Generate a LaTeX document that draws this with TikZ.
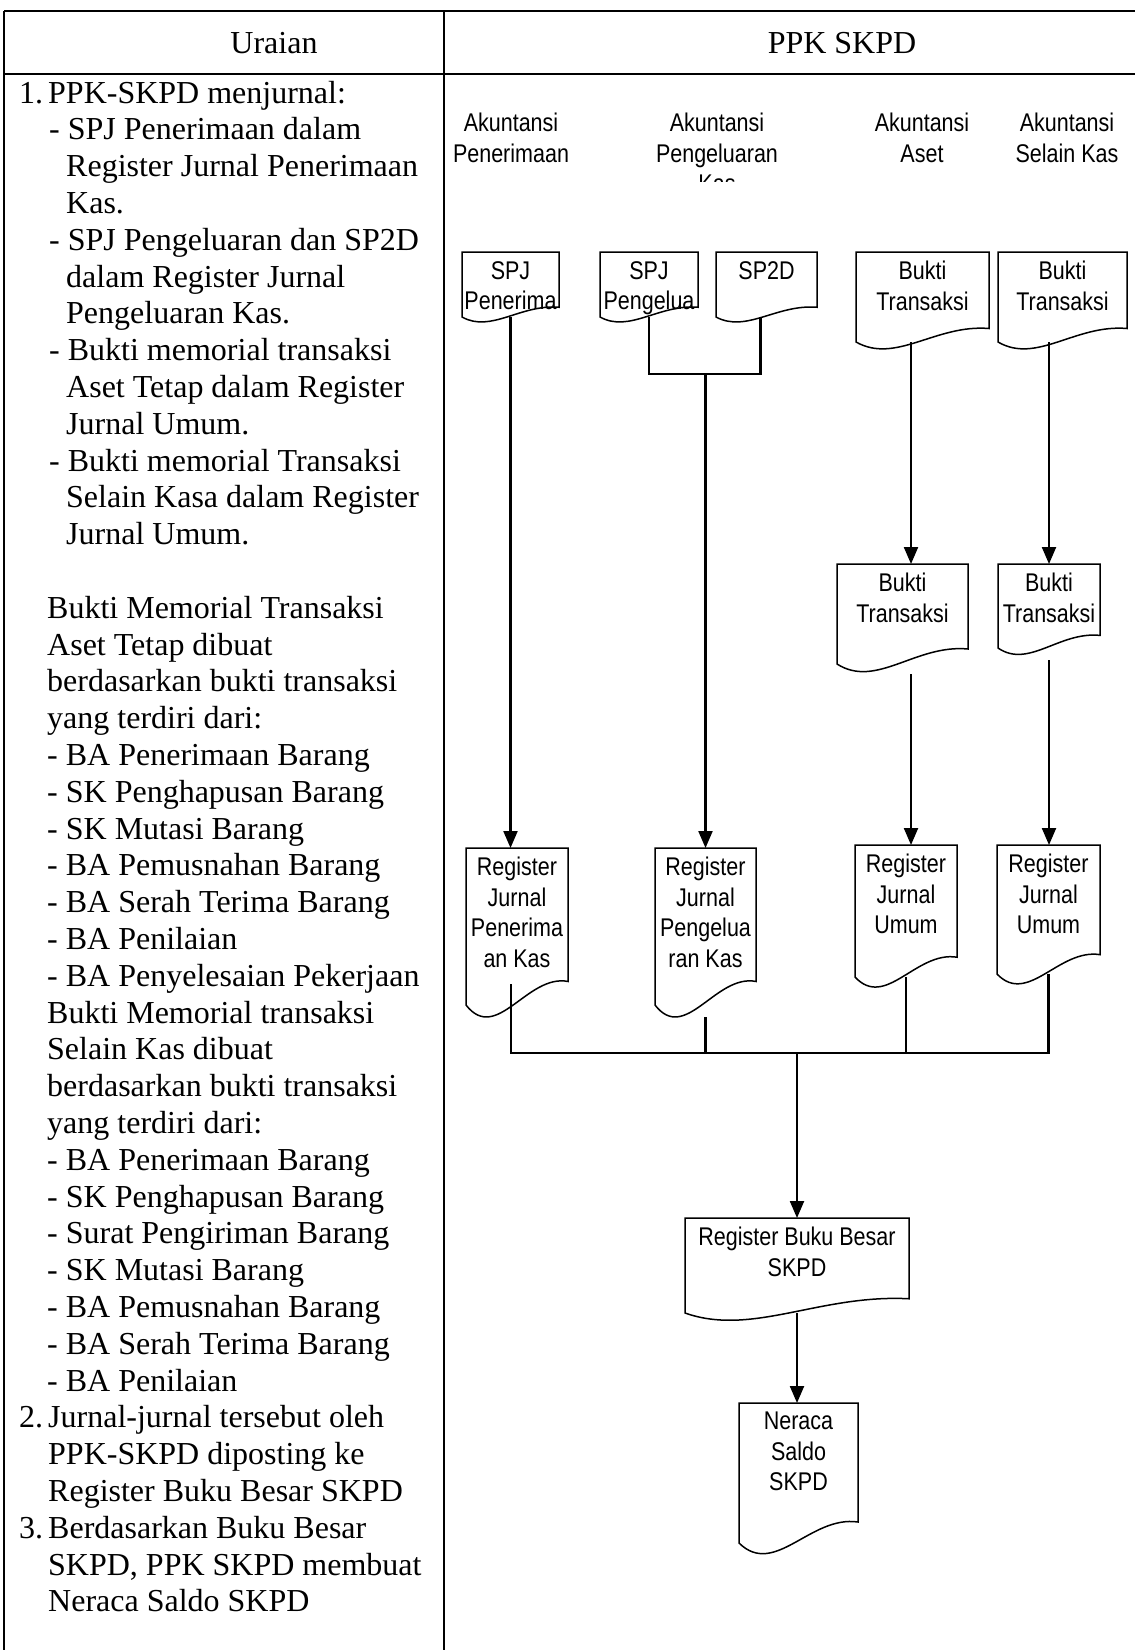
\documentclass[tikz,border=0pt]{standalone}
\usepackage{fontspec}
\setmainfont{Liberation Serif}
\newfontfamily\arialc[FakeStretch=0.84]{Liberation Sans}
\usetikzlibrary{arrows.meta}
\newcommand\docbox[6]{%
  \node[docnode, minimum width=#4pt, minimum height=#5pt, anchor=north west] (#1) at (#2,#3) {};
  \draw[docline] (#2,#3) -- ({#2+#4},#3) -- ({#2+#4},{#3+0.85*#5})
     .. controls ({#2+0.6*#4},{#3+0.8*#5}) and ({#2+0.3*#4},{#3+1.25*#5}) .. (#2,{#3+#5}) -- cycle;
  \node[ak, anchor=north] (#1t) at ([yshift=-9pt]#1.north) {#6};
}
\newcommand\lline[4]{\node[lt] (#1) at (#2,{103+36.8*(#3-1)}) {#4};}
\begin{document}
\begin{tikzpicture}[x=1pt,y=-1pt,
  tbl/.style={line width=2pt},
  lt/.style={font=\fontsize{32}{36.8}\selectfont, inner sep=0pt, anchor=base west},
  hd/.style={font=\fontsize{32}{36.8}\selectfont, inner sep=0pt, anchor=base},
  ak/.style={font=\arialc\fontsize{25.6}{30.5}\selectfont, align=center, inner sep=0pt},
  docnode/.style={inner sep=0pt, outer sep=0pt, draw=none, rectangle},
  docline/.style={line width=1.5pt, line join=miter},
  conn/.style={line width=2.2pt},
  arr/.style={conn, -{Triangle[length=17pt,width=14pt]}},
]
\useasboundingbox[fill=white] (0,0) rectangle (1135,1650);

% table
\draw[tbl] (4,10.5) -- (1135,10.5);
\draw[tbl] (4,74) -- (1135,74);
\draw[tbl] (4,10.5) -- (4,1650);
\draw[tbl] (444,10.5) -- (444,1650);
\node[hd] (h1) at (274,53) {Uraian};
\node[hd] (h2) at (842,53) {PPK SKPD};

% left column text
\lline{n1}{19}{1}{1.}
\lline{l1}{48}{1}{PPK-SKPD menjurnal:}
\lline{l2}{49}{2}{- SPJ Penerimaan dalam}
\lline{l3}{66}{3}{Register Jurnal Penerimaan}
\lline{l4}{66}{4}{Kas.}
\lline{l5}{49}{5}{- SPJ Pengeluaran dan SP2D}
\lline{l6}{66}{6}{dalam Register Jurnal}
\lline{l7}{66}{7}{Pengeluaran Kas.}
\lline{l8}{49}{8}{- Bukti memorial transaksi}
\lline{l9}{66}{9}{Aset Tetap dalam Register}
\lline{l10}{66}{10}{Jurnal Umum.}
\lline{l11}{49}{11}{- Bukti memorial Transaksi}
\lline{l12}{66}{12}{Selain Kasa dalam Register}
\lline{l13}{66}{13}{Jurnal Umum.}
\lline{l15}{47}{15}{Bukti Memorial Transaksi}
\lline{l16}{47}{16}{Aset Tetap dibuat}
\lline{l17}{47}{17}{berdasarkan bukti transaksi}
\lline{l18}{47}{18}{yang terdiri dari:}
\lline{l19}{47}{19}{- BA Penerimaan Barang}
\lline{l20}{47}{20}{- SK Penghapusan Barang}
\lline{l21}{47}{21}{- SK Mutasi Barang}
\lline{l22}{47}{22}{- BA Pemusnahan Barang}
\lline{l23}{47}{23}{- BA Serah Terima Barang}
\lline{l24}{47}{24}{- BA Penilaian}
\lline{l25}{47}{25}{- BA Penyelesaian Pekerjaan}
\lline{l26}{47}{26}{Bukti Memorial transaksi}
\lline{l27}{47}{27}{Selain Kas dibuat}
\lline{l28}{47}{28}{berdasarkan bukti transaksi}
\lline{l29}{47}{29}{yang terdiri dari:}
\lline{l30}{47}{30}{- BA Penerimaan Barang}
\lline{l31}{47}{31}{- SK Penghapusan Barang}
\lline{l32}{47}{32}{- Surat Pengiriman Barang}
\lline{l33}{47}{33}{- SK Mutasi Barang}
\lline{l34}{47}{34}{- BA Pemusnahan Barang}
\lline{l35}{47}{35}{- BA Serah Terima Barang}
\lline{l36}{47}{36}{- BA Penilaian}
\lline{n2}{19}{37}{2.}
\lline{l37}{48}{37}{Jurnal-jurnal tersebut oleh}
\lline{l38}{48}{38}{PPK-SKPD diposting ke}
\lline{l39}{48}{39}{Register Buku Besar SKPD}
\lline{n3}{19}{40}{3.}
\lline{l40}{48}{40}{Berdasarkan Buku Besar}
\lline{l41}{48}{41}{SKPD, PPK SKPD membuat}
\lline{l42}{48}{42}{Neraca Saldo SKPD}

% column headings
\node[ak, anchor=north] (a1) at (511,113) {Akuntansi\\Penerimaan};
\begin{scope}
  \clip (600,90) rectangle (840,181);
  \node[ak, anchor=north] (a2) at (717,113) {Akuntansi\\Pengeluaran\\Kas};
\end{scope}
\node[ak, anchor=north] (a3) at (922,113) {Akuntansi\\Aset};
\node[ak, anchor=north] (a4) at (1067,113) {Akuntansi\\Selain Kas};

% documents
\docbox{b1}{462}{252}{97}{65}{SPJ\\Penerima}
\docbox{b2}{600}{252}{98}{65}{SPJ\\Pengelua}
\docbox{b3}{716}{252}{101}{65}{SP2D}
\docbox{b4}{856}{252}{133}{90}{Bukti\\Transaksi}
\docbox{b5}{998}{252}{129}{90}{Bukti\\Transaksi}
\docbox{b6}{837}{564}{131}{100}{Bukti\\Transaksi}
\docbox{b7}{998}{564}{102}{84}{Bukti\\Transaksi}
\docbox{b8}{466}{848}{102}{157}{Register\\Jurnal\\Penerima\\an Kas}
\docbox{b9}{655}{848}{101}{157}{Register\\Jurnal\\Pengelua\\ran Kas}
\docbox{b10}{855}{845}{102}{132}{Register\\Jurnal\\Umum}
\docbox{b11}{997}{845}{103}{129}{Register\\Jurnal\\Umum}
\docbox{b12}{685}{1218}{224}{95}{Register Buku Besar\\SKPD}
\docbox{b13}{739}{1403}{119}{140}{Neraca\\Saldo\\SKPD}

% connectors
\draw[arr] (b1.south) -- (b1.south |- b8.north);
\coordinate (j1) at (b9.north |- 0,374);
\draw[conn] (b2.south) |- (j1) -| ([xshift=-6pt]b3.south);
\draw[arr] (j1) -- (b9.north);
\draw[arr] ([xshift=8.5pt]b6.north |- b4.south) -- ([xshift=8.5pt]b6.north);
\draw[arr] (b7.north |- b5.south) -- (b7.north);
\draw[arr] ([xshift=8.5pt,yshift=-10pt]b6.south) -- ([xshift=8.5pt]b6.south |- b10.north);
\draw[arr] ([yshift=-12pt]b7.south) -- (b7.south |- b11.north);

\coordinate (m) at (b12.north |- 0,1053);
\draw[conn] ([xshift=-6pt,yshift=21pt]b8.south) |- (m);
\draw[conn] (b11.south) |- (m);
\draw[conn] ([yshift=-12pt]b9.south) -- (b9.south |- m);
\draw[conn] (b10.south) -- (b10.south |- m);
\draw[arr] (m) -- (b12.north);
\draw[arr] (b12.south) -- (b12.south |- b13.north);
\end{tikzpicture}
\end{document}
